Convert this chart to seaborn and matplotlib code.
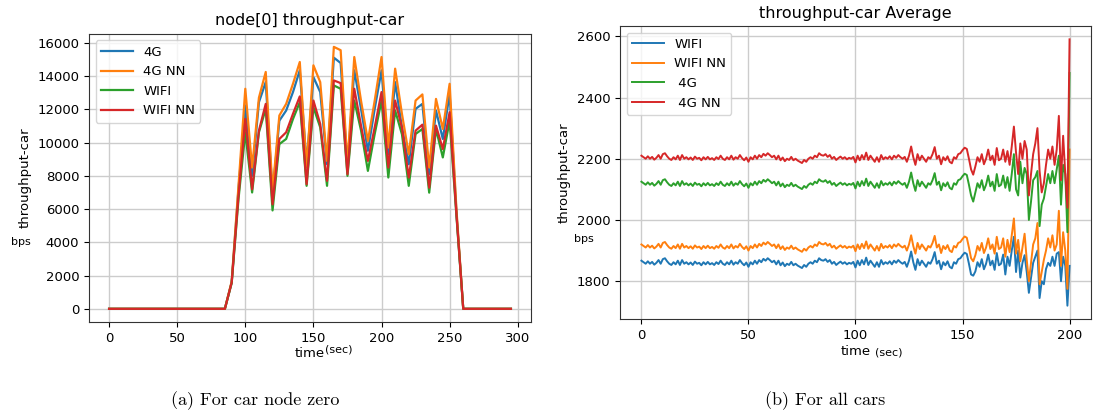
import pandas as pd
import matplotlib
matplotlib.use("Agg")
import matplotlib.pyplot as plt
import seaborn as sns

# ---- data: node[0] throughput (sampled every 5 sec) ----
time_node = list(range(0, 300, 5))
node_4g = [0, 0, 0, 0, 0, 0, 0, 0, 0, 0, 0, 0, 0, 0, 0, 0, 0, 0,
           1600, 7200,
           12230, 8000, 12430, 13640, 6900, 11320, 11930, 13040, 14350, 8700,
           13940, 13040, 8700, 15110, 14790, 8500, 14350, 12000, 9510, 12030,
           14350, 9300, 13640, 10920, 8700, 12030, 12330, 8100, 11930, 10220,
           12940, 5800,
           0, 0, 0, 0, 0, 0, 0, 0]
node_4g_nn = [0, 0, 0, 0, 0, 0, 0, 0, 0, 0, 0, 0, 0, 0, 0, 0, 0, 0,
              1650, 7400,
              13240, 8500, 12700, 14250, 7100, 11630, 12330, 13540, 14850, 8500,
              14650, 13640, 8900, 15760, 15560, 8700, 15150, 12500, 10100, 12530,
              15150, 9700, 14450, 11730, 9300, 12530, 12900, 8500, 12630, 10820,
              13540, 6000,
              0, 0, 0, 0, 0, 0, 0, 0]
node_wifi = [0, 0, 0, 0, 0, 0, 0, 0, 0, 0, 0, 0, 0, 0, 0, 0, 0, 0,
             1550, 6600,
             10620, 7000, 10620, 12030, 5920, 9910, 10220, 11420, 12430, 7400,
             12130, 10920, 7400, 13440, 13240, 8000, 12530, 10720, 8300, 10520,
             12530, 7900, 11930, 10500, 7400, 10520, 10820, 6990, 10820, 9110,
             11320, 5600,
             0, 0, 0, 0, 0, 0, 0, 0]
node_wifi_nn = [0, 0, 0, 0, 0, 0, 0, 0, 0, 0, 0, 0, 0, 0, 0, 0, 0, 0,
                1580, 6800,
                11425, 7190, 10720, 12330, 6290, 10220, 10620, 11730, 12780, 7500,
                12530, 11120, 7700, 13740, 13580, 8100, 13240, 11000, 8900, 10920,
                13040, 8500, 12530, 10900, 7900, 10720, 11080, 7290, 11020, 9610,
                11830, 5700,
                0, 0, 0, 0, 0, 0, 0, 0]

# ---- data: average throughput over all cars (every sec) ----
time_avg = list(range(0, 201))
avg_wifi = [
    1867, 1862, 1857, 1865, 1857, 1863, 1854, 1860, 1869, 1857, 1872, 1875, 1865, 1857, 1853, 1862, 1855, 1867, 1853, 1869,
    1857, 1862, 1855, 1861, 1853, 1864, 1857, 1860, 1852, 1862, 1855, 1863, 1855, 1859, 1853, 1862, 1856, 1867, 1857, 1853,
    1862, 1855, 1867, 1854, 1862, 1857, 1869, 1859, 1852, 1861, 1847, 1862, 1855, 1867, 1857, 1869, 1862, 1873, 1867, 1875,
    1869, 1862, 1867, 1855, 1867, 1852, 1861, 1849, 1857, 1853, 1863, 1852, 1857, 1851, 1847, 1843, 1853, 1847, 1857, 1862,
    1857, 1867, 1862, 1875, 1869, 1867, 1872, 1863, 1869, 1857, 1863, 1853, 1859, 1864, 1857, 1862, 1855, 1860, 1857, 1863,
    1845, 1867, 1852, 1869, 1855, 1877, 1853, 1867, 1857, 1847, 1862, 1847, 1869, 1855, 1862, 1857, 1865, 1855, 1867, 1860,
    1869, 1862, 1857, 1863, 1847, 1867, 1897, 1862, 1837, 1872, 1852, 1867, 1857, 1847, 1862, 1857, 1872, 1895, 1857, 1867,
    1839, 1862, 1852, 1865, 1847, 1842, 1862, 1857, 1872, 1875, 1885, 1893, 1889, 1857, 1822, 1818, 1832, 1862, 1847, 1872,
    1839, 1857, 1887, 1852, 1867, 1837, 1892, 1852, 1857, 1887, 1822, 1880, 1850, 1900, 1945, 1830, 1900, 1812, 1860, 1885,
    1830, 1762, 1810, 1860, 1880, 1900, 1745, 1800, 1790, 1840, 1860, 1850, 1880, 1850, 1890, 1895, 1800, 1880, 1850, 1720, 1850]
avg_wifi_nn = [
    1920, 1915, 1910, 1918, 1910, 1916, 1907, 1913, 1922, 1910, 1925, 1928, 1918, 1910, 1906, 1915, 1908, 1920, 1906, 1922,
    1910, 1915, 1908, 1914, 1906, 1917, 1910, 1913, 1905, 1915, 1908, 1916, 1908, 1912, 1906, 1915, 1909, 1920, 1910, 1906,
    1915, 1908, 1920, 1907, 1915, 1910, 1922, 1912, 1905, 1914, 1900, 1915, 1908, 1920, 1910, 1922, 1915, 1926, 1920, 1928,
    1922, 1915, 1920, 1908, 1920, 1905, 1914, 1902, 1910, 1906, 1916, 1905, 1910, 1904, 1900, 1896, 1906, 1900, 1910, 1915,
    1910, 1920, 1915, 1928, 1922, 1920, 1925, 1916, 1922, 1910, 1916, 1906, 1912, 1917, 1910, 1915, 1908, 1913, 1910, 1916,
    1898, 1920, 1905, 1922, 1908, 1930, 1906, 1920, 1910, 1900, 1915, 1900, 1922, 1908, 1915, 1910, 1918, 1908, 1920, 1913,
    1922, 1915, 1910, 1916, 1900, 1920, 1950, 1915, 1890, 1925, 1905, 1920, 1910, 1900, 1915, 1910, 1925, 1948, 1910, 1920,
    1892, 1915, 1905, 1918, 1900, 1895, 1915, 1910, 1925, 1928, 1938, 1946, 1942, 1910, 1875, 1865, 1885, 1915, 1900, 1925,
    1892, 1910, 1940, 1905, 1920, 1890, 1945, 1905, 1910, 1940, 1880, 1935, 1895, 1950, 2005, 1890, 1935, 1865, 1910, 1955,
    1870, 1800, 1860, 1920, 1940, 1990, 1790, 1830, 1870, 1900, 1940, 1910, 1950, 1900, 1920, 2030, 1850, 1960, 1900, 1775, 2230]
avg_4g = [
    2125, 2120, 2115, 2123, 2115, 2121, 2112, 2118, 2127, 2115, 2130, 2133, 2123, 2115, 2111, 2120, 2113, 2125, 2111, 2127,
    2115, 2120, 2113, 2119, 2111, 2122, 2115, 2118, 2110, 2120, 2113, 2121, 2113, 2117, 2111, 2120, 2114, 2125, 2115, 2111,
    2120, 2113, 2125, 2112, 2120, 2115, 2127, 2117, 2110, 2119, 2105, 2120, 2113, 2125, 2115, 2127, 2120, 2131, 2125, 2133,
    2127, 2120, 2125, 2113, 2125, 2110, 2119, 2107, 2115, 2111, 2121, 2110, 2115, 2109, 2105, 2101, 2111, 2105, 2115, 2120,
    2115, 2125, 2120, 2133, 2127, 2125, 2130, 2121, 2127, 2115, 2121, 2111, 2117, 2122, 2115, 2120, 2113, 2118, 2115, 2121,
    2103, 2125, 2110, 2127, 2113, 2135, 2111, 2125, 2115, 2105, 2120, 2105, 2127, 2113, 2120, 2115, 2123, 2113, 2125, 2118,
    2127, 2120, 2115, 2121, 2105, 2125, 2155, 2120, 2095, 2130, 2110, 2125, 2115, 2105, 2120, 2115, 2130, 2153, 2115, 2125,
    2097, 2120, 2110, 2123, 2105, 2100, 2120, 2115, 2130, 2133, 2143, 2151, 2147, 2115, 2080, 2060, 2090, 2120, 2105, 2130,
    2097, 2115, 2145, 2110, 2125, 2095, 2150, 2110, 2115, 2145, 2105, 2140, 2095, 2150, 2215, 2100, 2080, 2190, 2120, 2170,
    2150, 2000, 2060, 2130, 2140, 2160, 1980, 2050, 2070, 2110, 2150, 2120, 2160, 2120, 2165, 2210, 2050, 2180, 2150, 1960, 2480]
avg_4g_nn = [
    2210, 2205, 2200, 2208, 2200, 2206, 2197, 2203, 2212, 2200, 2215, 2218, 2208, 2200, 2196, 2205, 2198, 2210, 2196, 2212,
    2200, 2205, 2198, 2204, 2196, 2207, 2200, 2203, 2195, 2205, 2198, 2206, 2198, 2202, 2196, 2205, 2199, 2210, 2200, 2196,
    2205, 2198, 2210, 2197, 2205, 2200, 2212, 2202, 2195, 2204, 2190, 2205, 2198, 2210, 2200, 2212, 2205, 2216, 2210, 2218,
    2212, 2205, 2210, 2198, 2210, 2195, 2204, 2192, 2200, 2196, 2206, 2195, 2200, 2194, 2190, 2186, 2196, 2190, 2200, 2205,
    2200, 2210, 2205, 2218, 2212, 2210, 2215, 2206, 2212, 2200, 2206, 2196, 2202, 2207, 2200, 2205, 2198, 2203, 2200, 2206,
    2188, 2210, 2195, 2212, 2198, 2220, 2196, 2210, 2200, 2190, 2205, 2190, 2212, 2198, 2205, 2200, 2208, 2198, 2210, 2203,
    2212, 2205, 2200, 2206, 2190, 2210, 2240, 2205, 2180, 2215, 2195, 2210, 2200, 2190, 2205, 2200, 2215, 2238, 2200, 2210,
    2182, 2205, 2195, 2208, 2190, 2185, 2205, 2200, 2215, 2218, 2228, 2236, 2232, 2200, 2165, 2148, 2175, 2205, 2190, 2215,
    2182, 2200, 2230, 2195, 2210, 2180, 2235, 2195, 2200, 2230, 2190, 2225, 2180, 2240, 2305, 2220, 2150, 2250, 2200, 2258,
    2230, 2080, 2150, 2215, 2250, 2300, 2160, 2090, 2120, 2180, 2230, 2200, 2240, 2180, 2230, 2340, 2130, 2275, 2150, 2040, 2590]

colors = sns.color_palette("tab10")

fig = plt.figure(figsize=(10.96, 4.17), dpi=100)
plt.rcParams['font.size'] = 9.5

# Left panel: node zero
ax1 = fig.add_axes([0.0812, 0.228, 0.4033, 0.691])
left_series = [("4G", node_4g), ("4G NN", node_4g_nn), ("WIFI", node_wifi), ("WIFI NN", node_wifi_nn)]
for i, (name, vals) in enumerate(left_series):
    sns.lineplot(x=time_node, y=vals, label=name, color=colors[i], ax=ax1, linewidth=1.6)
ax1.set_title("node[0] throughput-car", fontsize=11.5)
ax1.set_ylabel("throughput-car", fontsize=9.5)
ax1.set_xlabel("time", fontsize=9.5, labelpad=2)
ax1.set_xticks([0, 50, 100, 150, 200, 250, 300])
ax1.set_yticks(range(0, 16001, 2000))
ax1.grid(True, color="#cccccc", linewidth=1)
ax1.legend(loc="upper left", fontsize=9.5, handlelength=2.4)
ax1.text(0.565, -0.095, "(sec)", transform=ax1.transAxes, fontsize=8, ha="center", va="center")

# Right panel: average over all cars
ax2 = fig.add_axes([0.5657, 0.235, 0.4297, 0.7026])
right_series = [("WIFI", avg_wifi), ("WIFI NN", avg_wifi_nn), (" 4G", avg_4g), (" 4G NN", avg_4g_nn)]
for i, (name, vals) in enumerate(right_series):
    sns.lineplot(x=time_avg, y=vals, label=name, color=colors[i], ax=ax2, linewidth=1.4)
ax2.set_title("throughput-car Average", fontsize=11.5)
ax2.set_ylabel("throughput-car", fontsize=9.5)
ax2.set_xlabel("time", fontsize=9.5, labelpad=2)
ax2.set_xticks([0, 50, 100, 150, 200])
ax2.set_yticks(range(1800, 2601, 200))
ax2.grid(True, color="#cccccc", linewidth=1)
ax2.legend(loc="upper left", fontsize=9.5, handlelength=2.4)
ax2.text(0.57, -0.113, "(sec)", transform=ax2.transAxes, fontsize=8, ha="center", va="center")

for ax in (ax1, ax2):
    for s in ax.spines.values():
        s.set_color("#333333")

fig.text(0.019, 0.42, "bps", fontsize=8, ha="center", va="center")
fig.text(0.533, 0.427, "bps", fontsize=8, ha="center", va="center")

# Sub-captions
fig.text(0.233, 0.04, "(a) For car node zero", family="cmr10", fontsize=13, ha="center", va="center")
fig.text(0.753, 0.04, "(b) For all cars", family="cmr10", fontsize=13, ha="center", va="center")

fig.savefig("out.png", dpi=100, facecolor="white")
